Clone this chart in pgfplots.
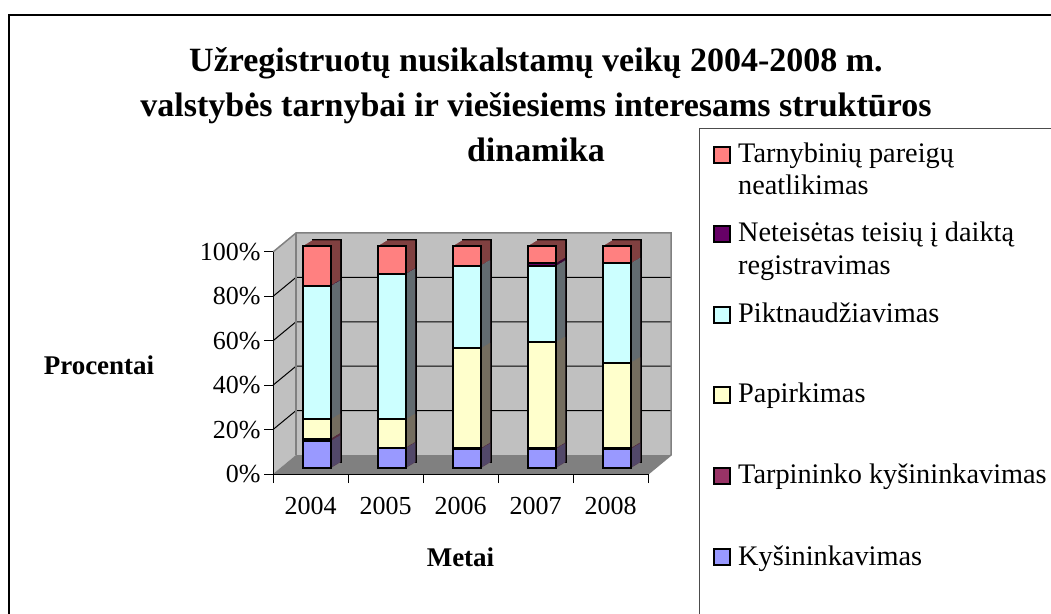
\documentclass[border=0pt]{standalone}
\usepackage{fontspec}
\setmainfont{Liberation Serif}
\usepackage{pgfplots}
\usepackage{pgfplotstable}
\pgfplotsset{compat=1.18}

\definecolor{cTarn}{HTML}{FF8080}
\definecolor{cNet}{HTML}{660066}
\definecolor{cPikt}{HTML}{CCFFFF}
\definecolor{cPap}{HTML}{FFFFCC}
\definecolor{cTarp}{HTML}{993366}
\definecolor{cKys}{HTML}{9999FF}
\definecolor{wallc}{HTML}{C0C0C0}
\definecolor{floorc}{HTML}{808080}

% shares in percent, x = year index (2004..2008)
\pgfplotstableread{
x kys tarp pap pikt net tarn
0 12.0 1.0 8.8 60.0 0.2 18.0
1 8.7 0.3 12.8 65.4 0.1 12.7
2 8.4 0.3 45.0 37.3 0.0 9.0
3 8.4 0.3 47.8 34.3 1.2 8.0
4 8.4 0.4 38.5 44.7 0.0 8.0
}\data

% one set of bars (cumulative, tallest first); #1 xshift, #2 yshift, #3 colour share, #4 edge colour
\newcommand\barset[4]{%
  \addplot[ybar, bar width=28pt, fill=cTarn!#3!black, draw=#4, line width=2pt, xshift=#1, yshift=#2]
    table[x=x, y expr=\thisrow{kys}+\thisrow{tarp}+\thisrow{pap}+\thisrow{pikt}+\thisrow{net}+\thisrow{tarn}] {\data};
  \addplot[ybar, bar width=28pt, fill=cNet!#3!black, draw=#4, line width=2pt, xshift=#1, yshift=#2]
    table[x=x, y expr=\thisrow{kys}+\thisrow{tarp}+\thisrow{pap}+\thisrow{pikt}+\thisrow{net}] {\data};
  \addplot[ybar, bar width=28pt, fill=cPikt!#3!black, draw=#4, line width=2pt, xshift=#1, yshift=#2]
    table[x=x, y expr=\thisrow{kys}+\thisrow{tarp}+\thisrow{pap}+\thisrow{pikt}] {\data};
  \addplot[ybar, bar width=28pt, fill=cPap!#3!black, draw=#4, line width=2pt, xshift=#1, yshift=#2]
    table[x=x, y expr=\thisrow{kys}+\thisrow{tarp}+\thisrow{pap}] {\data};
  \addplot[ybar, bar width=28pt, fill=cTarp!#3!black, draw=#4, line width=2pt, xshift=#1, yshift=#2]
    table[x=x, y expr=\thisrow{kys}+\thisrow{tarp}] {\data};
  \addplot[ybar, bar width=28pt, fill=cKys!#3!black, draw=#4, line width=2pt, xshift=#1, yshift=#2]
    table[x=x, y=kys] {\data};
}

\newcommand\legsq[2]{\draw[line width=1.5pt, fill=#1] (714pt,#2) rectangle ++(16pt,16pt);}

\begin{document}
\begin{tikzpicture}
\useasboundingbox (0pt,0pt) rectangle (1051pt,613pt);

\begin{axis}[
  at={(273pt,139pt)}, anchor=south west,
  scale only axis, width=375pt, height=222pt,
  xmin=-0.5, xmax=4.5, ymin=0, ymax=100,
  clip=false, axis on top,
  axis lines=left, axis line style={-, line width=1pt},
  tick align=outside, major tick length=9pt,
  tick style={black, line width=1pt},
  xtick={-0.5,0.5,...,4.5}, x tick label as interval,
  xticklabels={2004,2005,2006,2007,2008},
  xticklabel style={yshift=-11pt},
  ytick={0,20,...,100},
  yticklabels={0\%,20\%,40\%,60\%,80\%,100\%},
  tick label style={font=\fontsize{26}{31}\selectfont},
  xlabel={Metai}, ylabel={Procentai},
  every axis x label/.style={at={(axis description cs:0.5,-0.374)}, anchor=center,
    font=\fontsize{27}{32}\selectfont\bfseries},
  every axis y label/.style={at={(axis description cs:-0.464,0.491)}, anchor=center,
    font=\fontsize{27}{32}\selectfont\bfseries},
]
% walls and floor
\fill[wallc] (axis cs:-0.5,0) -- (axis cs:-0.5,100) -- ([shift={(23pt,19pt)}]axis cs:-0.5,100) -- ([shift={(23pt,19pt)}]axis cs:-0.5,0) -- cycle;
\fill[wallc] ([shift={(23pt,19pt)}]axis cs:-0.5,0) rectangle ([shift={(23pt,19pt)}]axis cs:4.5,100);
\fill[floorc] (axis cs:-0.5,0) -- (axis cs:4.5,0) -- ([shift={(23pt,19pt)}]axis cs:4.5,0) -- ([shift={(23pt,19pt)}]axis cs:-0.5,0) -- cycle;
\pgfplotsinvokeforeach{20,40,60,80}{
  \draw[black, line width=1pt] (axis cs:-0.5,#1) -- ([shift={(23pt,19pt)}]axis cs:-0.5,#1) -- ([shift={(23pt,19pt)}]axis cs:4.5,#1);
}
\draw[floorc, line width=1.5pt] (axis cs:-0.5,100) -- ([shift={(23pt,19pt)}]axis cs:-0.5,100) -- ([shift={(23pt,19pt)}]axis cs:4.5,100) -- ([shift={(23pt,19pt)}]axis cs:4.5,0) -- (axis cs:4.5,0);
\draw[floorc, line width=1.5pt] ([shift={(23pt,19pt)}]axis cs:-0.5,0) -- ([shift={(23pt,19pt)}]axis cs:-0.5,100);

% bar depth: back copy with edges, then filled copies towards the front
\barset{16.5pt}{12.3pt}{50}{black}
\pgfplotsinvokeforeach{9,8,...,1}{\barset{6.5pt+#1pt}{6.3pt+0.6*#1pt}{50}{none}}
\barset{6.5pt}{6.3pt}{100}{black}
\end{axis}

% title
\begin{scope}[every node/.style={anchor=base, inner sep=0pt, font=\fontsize{34}{40}\selectfont\bfseries}]
\node at (536pt,541pt) {Užregistruotų nusikalstamų veikų 2004-2008 m.};
\node at (536pt,496pt) {valstybės tarnybai ir viešiesiems interesams struktūros};
\node at (536pt,451pt) {dinamika};
\end{scope}

% frame and legend
\draw[line width=2.5pt] (9pt,-20pt) -- (9pt,598pt) -- (1070pt,598pt);
\draw[gray!60!black, line width=1pt] (699pt,-20pt) -- (699pt,484pt) -- (1070pt,484pt);
\begin{scope}[every node/.style={anchor=base west, inner sep=0pt, font=\fontsize{28.3}{33}\selectfont}]
\legsq{cTarn}{450pt}
\node at (738pt,450pt) {Tarnybinių pareigų};
\node at (738pt,418pt) {neatlikimas};
\legsq{cNet}{371pt}
\node at (738pt,371pt) {Neteisėtas teisių į daiktą};
\node at (738pt,338pt) {registravimas};
\legsq{cPikt}{290pt}
\node at (738pt,290pt) {Piktnaudžiavimas};
\legsq{cPap}{210pt}
\node at (738pt,210pt) {Papirkimas};
\legsq{cTarp}{129pt}
\node at (738pt,129pt) {Tarpininko kyšininkavimas};
\legsq{cKys}{48pt}
\node at (738pt,48pt) {Kyšininkavimas};
\end{scope}
\end{tikzpicture}
\end{document}
